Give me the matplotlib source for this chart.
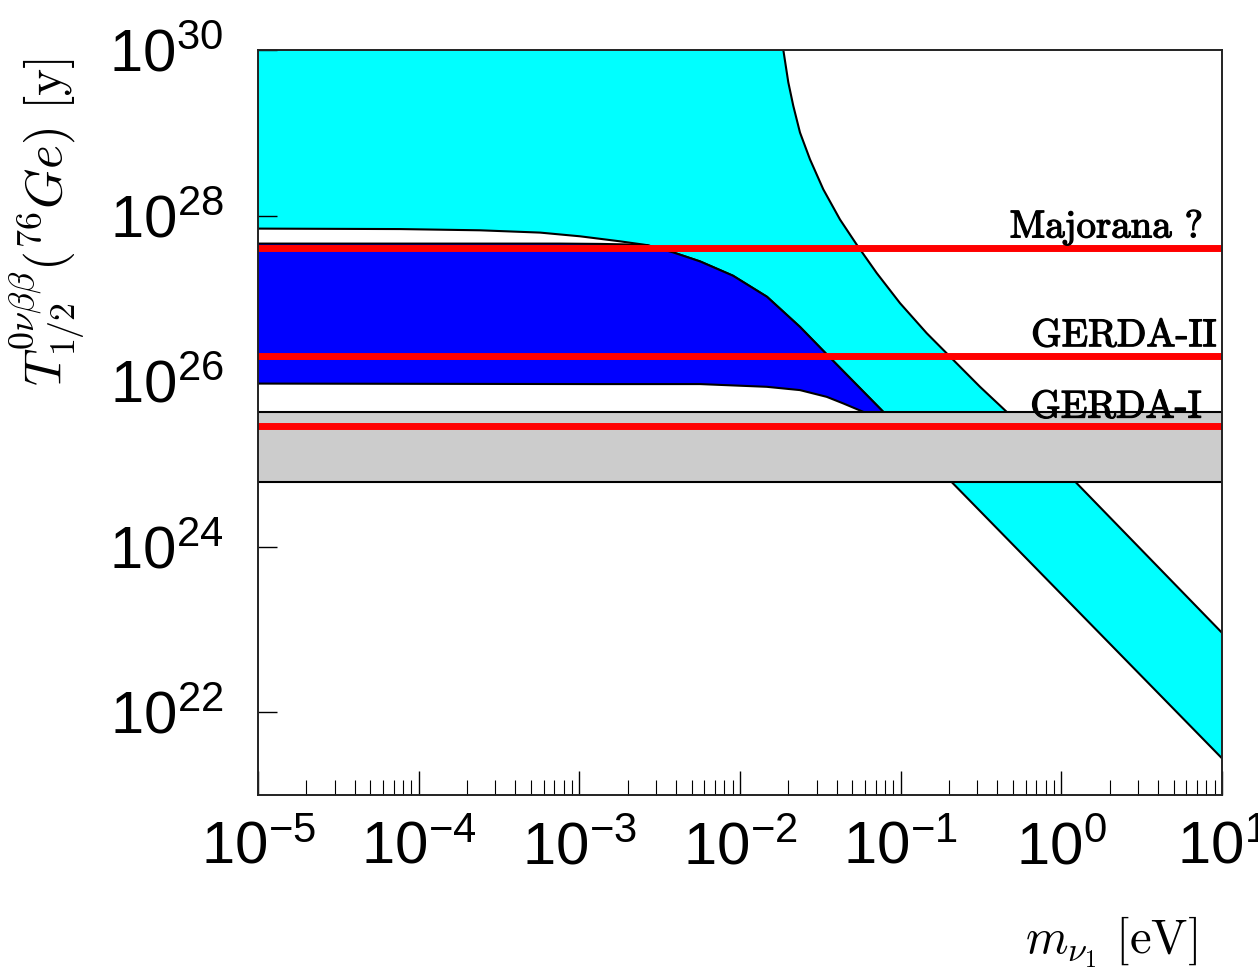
import numpy as np
import matplotlib.pyplot as plt
import matplotlib.patheffects as pe
from matplotlib.ticker import LogLocator, NullLocator

plt.rcParams['font.family'] = ['Liberation Sans', 'DejaVu Sans']

# normal hierarchy band (cyan): edge of largest half-life and edge of smallest half-life
nh_up_m = [0.0186, 0.01998, 0.02146, 0.02362, 0.02726, 0.03299, 0.04192, 0.05325, 0.07091,
           0.0990, 0.1452, 0.2126, 0.3117, 0.4568, 1.25, 10.0]
nh_up_T = [1e30, 4.06e29, 2.11e29, 1.006e29, 4.77e28, 2.07e28, 8.94e27, 4.45e27, 2.02e27,
           8.75e26, 3.79e26, 1.80e26, 8.53e25, 4.25e25, 5.8e24, 9.1e22]
nh_low_m = [1e-5, 7.66e-5, 2.41e-4, 5.69e-4, 1.01e-3, 1.79e-3, 2.64e-3, 3.83e-3, 5.64e-3,
            9.04e-3, 0.01472, 0.02362, 0.03544, 0.04837, 0.0779, 0.2117, 10.0]
nh_low_T = [6.95e27, 6.86e27, 6.63e27, 6.22e27, 5.61e27, 4.88e27, 4.39e27, 3.59e27, 2.79e27,
            1.875e27, 1.043e27, 4.51e26, 2.01e26, 1.088e26, 4.25e25, 5.8e24, 2.77e21]

# inverted hierarchy band (blue)
ih_up_m = [1e-5, 7.58e-4, 1.35e-3, 1.92e-3, 2.64e-3, 3.83e-3, 5.64e-3, 9.04e-3, 0.01472,
           0.02362, 0.03544, 0.04837, 0.0779]
ih_up_T = [4.58e27, 4.58e27, 4.54e27, 4.48e27, 4.39e27, 3.59e27, 2.79e27, 1.875e27, 1.043e27,
           4.51e26, 2.01e26, 1.088e26, 4.25e25]
ih_low_m = [1e-5, 1.35e-3, 5.64e-3, 0.01466, 0.02362, 0.03464, 0.04393, 0.05853]
ih_low_T = [9.33e25, 9.2e25, 9.2e25, 8.53e25, 7.78e25, 6.45e25, 5.37e25, 4.25e25]

# excluded band (gray)
gray_lo = 6.0e24
gray_hi = 4.25e25

# experiment sensitivities (red lines)
exp_names = ['GERDA-I', 'GERDA-II', 'Majorana ?']
exp_T = [2.9e25, 2.0e26, 4.0e27]
exp_offsets = [(-15, 5.8), (-4.3, 7.2), (-13.7, 8)]

xticks = [1e-5, 1e-4, 1e-3, 1e-2, 1e-1, 1e0, 1e1]
xticklabels = [r'$\mathdefault{10^{-5}}$', r'$\mathdefault{10^{-4}}$', r'$\mathdefault{10^{-3}}$',
               r'$\mathdefault{10^{-2}}$', r'$\mathdefault{10^{-1}}$', r'$\mathdefault{10^{0}}$',
               r'$\mathdefault{10^{1}}$']
yticks = [1e22, 1e24, 1e26, 1e28, 1e30]
yticklabels = [r'$\mathdefault{10^{22}}$', r'$\mathdefault{10^{24}}$', r'$\mathdefault{10^{26}}$',
               r'$\mathdefault{10^{28}}$', r'$\mathdefault{10^{30}}$']

fig = plt.figure(figsize=(12.58, 9.74), dpi=100)
ax = fig.add_axes([0.2051, 0.1838, 0.7663, 0.7649])
ax.set_xscale('log')
ax.set_yscale('log')

#%% bands
cyan_m = np.r_[nh_low_m[0], nh_up_m, nh_low_m[::-1]]
cyan_T = np.r_[nh_up_T[0], nh_up_T, nh_low_T[::-1]]
ax.fill(cyan_m, cyan_T, color='#00ffff', lw=0, zorder=1)
ax.plot(nh_up_m, nh_up_T, color='k', lw=1.5, zorder=2)
ax.plot(nh_low_m, nh_low_T, color='k', lw=1.5, zorder=2)

blue_m = np.r_[ih_up_m, ih_low_m[::-1]]
blue_T = np.r_[ih_up_T, ih_low_T[::-1]]
ax.fill(blue_m, blue_T, color='#0000ff', lw=0, zorder=3)
ax.plot(ih_up_m, ih_up_T, color='k', lw=1.5, zorder=4)
ax.plot(ih_low_m, ih_low_T, color='k', lw=1.5, zorder=4)

ax.axhspan(gray_lo, gray_hi, color='#cccccc', lw=0, zorder=5)
ax.axhline(gray_lo, color='k', lw=1.5, zorder=6)
ax.axhline(gray_hi, color='k', lw=1.5, zorder=6)

#%% experiments
for name, T, off in zip(exp_names, exp_T, exp_offsets):
    ax.axhline(T, color='#ff0000', lw=5, zorder=7)
    ax.annotate(name, xy=(1, T), xycoords=('axes fraction', 'data'), xytext=off,
                textcoords='offset points', ha='right', va='baseline', fontsize=28,
                fontfamily='cmr10', zorder=8,
                path_effects=[pe.withStroke(linewidth=0.9, foreground='k')])

#%% axes
ax.set_xlim(1e-5, 10)
ax.set_ylim(1e21, 1e30)
ax.set_xticks(xticks)
ax.set_xticklabels(xticklabels)
ax.set_yticks(yticks)
ax.set_yticklabels(yticklabels)
ax.xaxis.set_minor_locator(LogLocator(base=10, subs=np.arange(2, 10), numticks=20))
ax.yaxis.set_minor_locator(NullLocator())
ax.tick_params(axis='x', which='major', direction='in', length=17, width=1, pad=19, labelsize=43, top=False)
ax.tick_params(axis='x', which='minor', direction='in', length=10.5, width=0.8, top=False)
ax.tick_params(axis='y', which='major', direction='in', length=13.5, width=1, pad=25, labelsize=43, right=False)
for s in ax.spines.values():
    s.set_linewidth(1.4)
    s.set_color('#222222')
    s.set_zorder(10)

fig.text(47 / 1258, 1 - 222 / 974, r'$T^{0\nu\beta\beta}_{1/2}({}^{76}Ge)\ [\mathrm{y}]$',
         rotation=90, ha='center', va='center', fontsize=37, math_fontfamily='cm')
fig.text(1197 / 1258, 1 - 942 / 974, r'$m_{\nu_1}\ [\mathrm{eV}]$',
         ha='right', va='center', fontsize=35, math_fontfamily='cm')

plt.savefig('out.png', dpi=100)
